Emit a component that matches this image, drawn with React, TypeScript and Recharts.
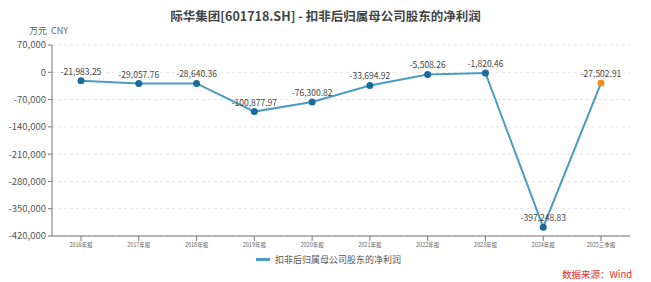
import { LineChart, Line, XAxis, YAxis, CartesianGrid, Legend, LabelList } from 'recharts'

const periods = ['2016年报', '2017年报', '2018年报', '2019年报', '2020年报', '2021年报', '2022年报', '2023年报', '2024年报', '2025三季报']
const profit = [-21983.25, -29057.76, -28640.36, -100877.97, -76300.82, -33694.92, -5508.26, -1820.46, -397248.83, -27502.91]
const yTicks = [70000, 0, -70000, -140000, -210000, -280000, -350000, -420000]

const seriesName = '扣非后归属母公司股东的净利润'
const font = '"Noto Sans CJK SC", "Noto Sans", sans-serif'

const fmt = (v: number) => v.toLocaleString('en-US', { minimumFractionDigits: 2, maximumFractionDigits: 2 })
const fmtTick = (v: number) => v.toLocaleString('en-US')

const Dot = (props: any) => {
    const { cx, cy, index } = props
    const last = index === profit.length - 1
    return <circle cx={cx} cy={cy} r={3.5} fill={last ? '#f28c1e' : '#1b6c9c'} stroke="none" />
}

export default function App() {
    const data = periods.map((p, i) => ({ period: p, value: profit[i] }))

    return (
        <div style={{ position: 'absolute', left: 0, top: 0, width: 651, height: 282, background: '#fff', fontFamily: font }}>
            <div style={{ position: 'absolute', top: 6, width: 651, textAlign: 'center', fontSize: 12.5, fontWeight: 'bold', color: '#444' }}>
                际华集团[601718.SH] - 扣非后归属母公司股东的净利润
            </div>
            <div style={{ position: 'absolute', top: 24, left: 29, fontSize: 9, lineHeight: '13px', color: '#666' }}>
                万元&nbsp;&nbsp;CNY
            </div>
            <LineChart width={651} height={282} data={data} margin={{ top: 45, right: 21, bottom: 0, left: 2 }}>
                <CartesianGrid vertical={false} stroke="#e4e4e4" strokeDasharray="3 3" />
                <XAxis
                    dataKey="period"
                    padding={{ left: 29, right: 29 }}
                    tick={{ fontSize: 5.5, fill: '#666', fontFamily: font }}
                    tickSize={5}
                    stroke="#777"
                    interval={0}
                    height={21}
                />
                <YAxis
                    domain={[-420000, 70000]}
                    ticks={yTicks}
                    tickFormatter={fmtTick}
                    tick={{ fontSize: 9.5, fill: '#555', fontFamily: font }}
                    tickSize={4}
                    stroke="#777"
                    width={50}
                    interval={0}
                />
                <Legend
                    verticalAlign="bottom"
                    height={25}
                    content={() => (
                        <div style={{ display: 'flex', alignItems: 'center', marginLeft: 254, marginTop: -4, fontSize: 9, lineHeight: '13px', color: '#555', fontFamily: font }}>
                            <span style={{ display: 'inline-block', width: 14, height: 2.5, background: '#4a9cc4', marginRight: 5 }} />
                            {seriesName}
                        </div>
                    )}
                />
                <Line
                    type="linear"
                    dataKey="value"
                    name={seriesName}
                    stroke="#4a9cc4"
                    strokeWidth={2}
                    dot={<Dot />}
                    activeDot={false}
                    isAnimationActive={false}
                >
                    <LabelList dataKey="value" position="top" offset={6} formatter={(v: any) => fmt(Number(v))} style={{ fontSize: 8.5, fill: '#444', fontFamily: font }} />
                </Line>
            </LineChart>
            <div style={{ position: 'absolute', top: 267, left: 562, fontSize: 9.5, lineHeight: '14px', color: '#e0302a' }}>
                数据来源：Wind
            </div>
        </div>
    )
}
